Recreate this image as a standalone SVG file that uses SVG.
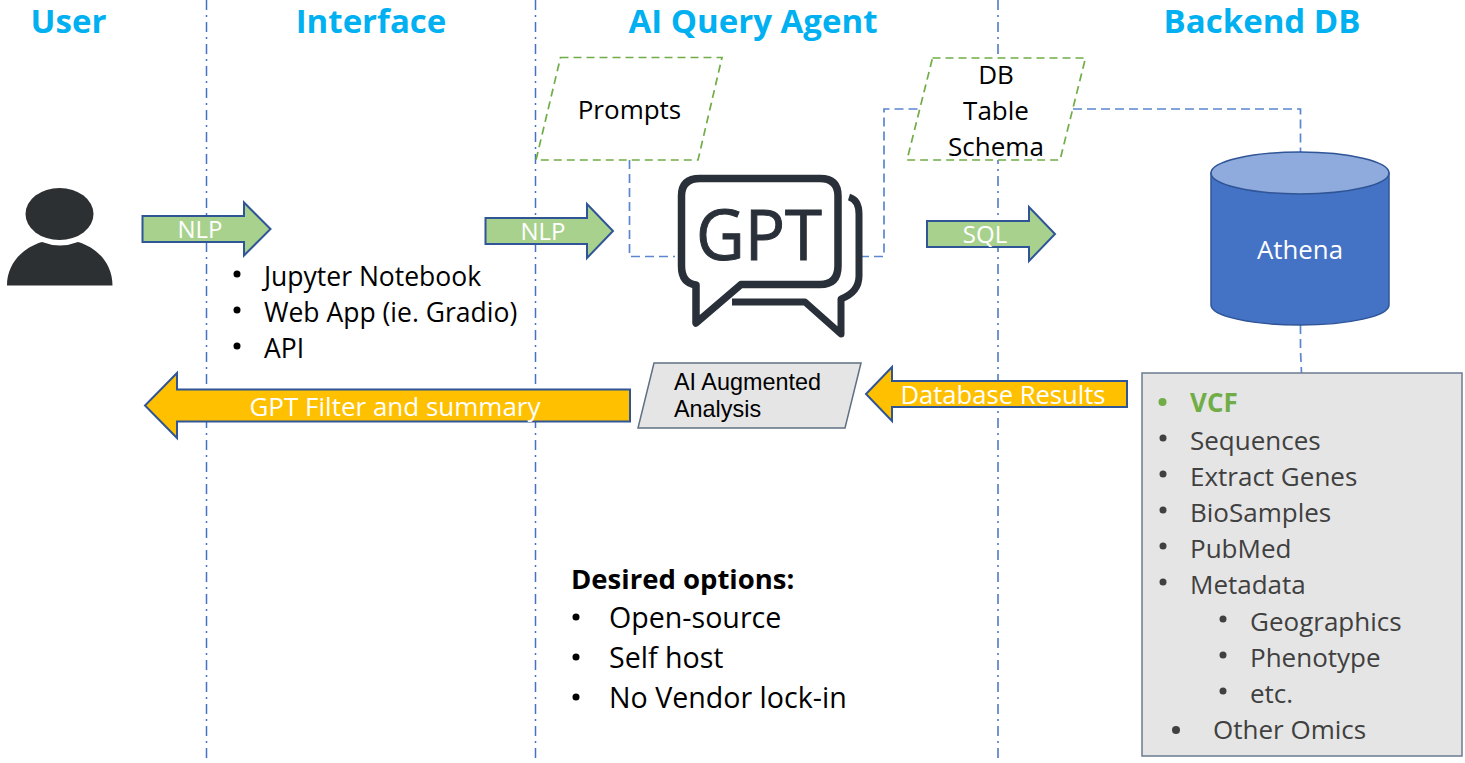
<svg xmlns="http://www.w3.org/2000/svg" width="1465" height="763" viewBox="0 0 1465 763">
<style>
text{font-family:"Open Sans","Noto Sans","Liberation Sans",sans-serif;fill:#000}
.title{font-size:33px;font-weight:700;fill:#00b0f0;text-anchor:middle}
.lane{stroke:#4472c4;stroke-width:1.500;stroke-dasharray:10 5 2 5;fill:none}
.link{stroke:#5b86d0;stroke-width:1.700;stroke-dasharray:9 5;fill:none}
.input{fill:#fff;stroke:#70ad47;stroke-width:1.700;stroke-dasharray:8 5}
.green{fill:#a9d18e;stroke:#2f5597;stroke-width:2}
.yellow{fill:#ffc000;stroke:#2f5597;stroke-width:2}
.lbl{font-size:24px;fill:#fff;text-anchor:middle}
.t25{font-size:26px}
.t26{font-size:28.600px}
.t27{font-size:26.500px}
.mid{text-anchor:middle}
.item{font-size:26px;fill:#404040}
.dot{fill:#404040}
.arial{font-family:"Liberation Sans",Arial,sans-serif;font-size:23.400px}
</style>
<g id="lanes">
<path class="lane" d="M206.500 0V763"/><path class="lane" d="M535.500 0V763"/><path class="lane" d="M998 0V763"/>
</g>
<g id="titles">
<text class="title" x="68.500" y="33">User</text>
<text class="title" x="371" y="33">Interface</text>
<text class="title" x="753" y="33">AI Query Agent</text>
<text class="title" x="1262" y="33">Backend DB</text>
</g>
<g id="connectors">
<path class="link" d="M629.500 160V256.500H675"/>
<path class="link" d="M860 256.500H884V109H921"/>
<path class="link" d="M1073 109H1300.500V152"/>
<path class="link" d="M1300.500 325V350L1301.500 373"/>
</g>
<g id="user">
<ellipse cx="59.500" cy="214" rx="34" ry="26" fill="#2c3033"/>
<path d="M7 285.500C7 264 22 248 42 242Q60 249 78 242C98 248 112.500 264 112.500 285.500Z" fill="#2c3033"/>
</g>
<g id="nlp-1">
<path class="green" d="M142.500 216H244V202.500L270.500 229L244 255.500V242H142.500Z"/>
<text class="lbl" x="200" y="238">NLP</text>
</g>
<g id="interface-list">
<circle cx="237" cy="274" r="3.500"/><text class="t27" x="264" y="286">Jupyter Notebook</text>
<circle cx="237" cy="310" r="3.500"/><text class="t27" x="264" y="322">Web App (ie. Gradio)</text>
<circle cx="237" cy="346" r="3.500"/><text class="t27" x="264" y="358">API</text>
</g>
<g id="nlp-2">
<path class="green" d="M485.500 218H587V204L613 231L587 258V244H485.500Z"/>
<text class="lbl" x="543" y="240">NLP</text>
</g>
<g id="prompts">
<path class="input" d="M560.500 57.500H722L698 160H536Z"/>
<text class="t25 mid" x="629.500" y="119">Prompts</text>
</g>
<g id="gpt">
<path d="M700 178.500H820Q838 178.500 838 196V266Q838 284.500 820 284.500H741L696 323V285Q681.500 283 681.500 266V196Q681.500 178.500 700 178.500Z" fill="none" stroke="#2a3039" stroke-width="7.500" stroke-linejoin="round"/>
<path d="M849 197Q859 200 859 214V276Q859 292 841 299V334L805 302H732" fill="none" stroke="#2a3039" stroke-width="7" stroke-linejoin="round"/>
<text x="696" y="260" font-size="70" textLength="126" lengthAdjust="spacingAndGlyphs" style="fill:#2a3039;stroke:#2a3039;stroke-width:1">GPT</text>
</g>
<g id="db-schema">
<path class="input" d="M932.500 58H1085.500L1060 160H907Z"/>
<text class="t25 mid" x="996" y="84">DB</text>
<text class="t25 mid" x="996" y="120">Table</text>
<text class="t25 mid" x="996" y="156">Schema</text>
</g>
<g id="sql">
<path class="green" d="M927 221H1029V207L1055 234L1029 261V247H927Z"/>
<text class="lbl" x="985" y="243">SQL</text>
</g>
<g id="athena">
<path d="M1211 173V305C1211 316 1251 325 1300 325S1389 316 1389 305V173Z" fill="#4472c4" stroke="#2f5597" stroke-width="1.500"/>
<ellipse cx="1300" cy="173" rx="89" ry="21" fill="#8faadc" stroke="#2f5597" stroke-width="1.500"/>
<text class="mid" x="1300" y="259" font-size="25.800" style="fill:#fff">Athena</text>
</g>
<g id="db-results">
<path class="yellow" d="M1127 381H892V367L866 394L892 421V407H1127Z"/>
<text class="lbl" x="1003" y="404" style="font-size:25.600px">Database Results</text>
</g>
<g id="ai-analysis">
<path d="M654 363H861L845 428H638Z" fill="#e5e5e5" stroke="#5f7083" stroke-width="1.500"/>
<text class="arial" x="674" y="390">AI Augmented</text>
<text class="arial" x="674" y="417">Analysis</text>
</g>
<g id="gpt-filter">
<path class="yellow" d="M630 389.500H177V373L145 405.500L177 438V421.500H630Z"/>
<text class="lbl" x="395" y="416" style="font-size:26px">GPT Filter and summary</text>
</g>
<g id="desired-options">
<text x="571" y="589" font-size="27.500" font-weight="700">Desired options:</text>
<circle cx="576" cy="617" r="3.500"/><text class="t26" x="609" y="628">Open-source</text>
<circle cx="576" cy="657" r="3.500"/><text class="t26" x="609" y="668">Self host</text>
<circle cx="576" cy="697" r="3.500"/><text class="t26" x="609" y="708">No Vendor lock-in</text>
</g>
<g id="data-sources">
<rect x="1142" y="373" width="320" height="383" fill="#e5e5e5" stroke="#6b7b8f" stroke-width="1.500"/>
<circle cx="1162.500" cy="402" r="4" fill="#70ad47"/><text x="1190" y="412" font-size="26" font-weight="700" style="fill:#70ad47">VCF</text>
<circle class="dot" cx="1163" cy="438" r="3.500"/><text class="item" x="1190" y="450">Sequences</text>
<circle class="dot" cx="1163" cy="474" r="3.500"/><text class="item" x="1190" y="486">Extract Genes</text>
<circle class="dot" cx="1163" cy="510" r="3.500"/><text class="item" x="1190" y="522">BioSamples</text>
<circle class="dot" cx="1163" cy="546" r="3.500"/><text class="item" x="1190" y="558">PubMed</text>
<circle class="dot" cx="1163" cy="582" r="3.500"/><text class="item" x="1190" y="594">Metadata</text>
<circle class="dot" cx="1223" cy="619" r="3.500"/><text class="item" x="1250" y="631">Geographics</text>
<circle class="dot" cx="1223" cy="655" r="3.500"/><text class="item" x="1250" y="667">Phenotype</text>
<circle class="dot" cx="1223" cy="691" r="3.500"/><text class="item" x="1250" y="703">etc.</text>
<circle class="dot" cx="1176" cy="730" r="4"/><text class="item" x="1213" y="739">Other Omics</text>
</g>
</svg>
